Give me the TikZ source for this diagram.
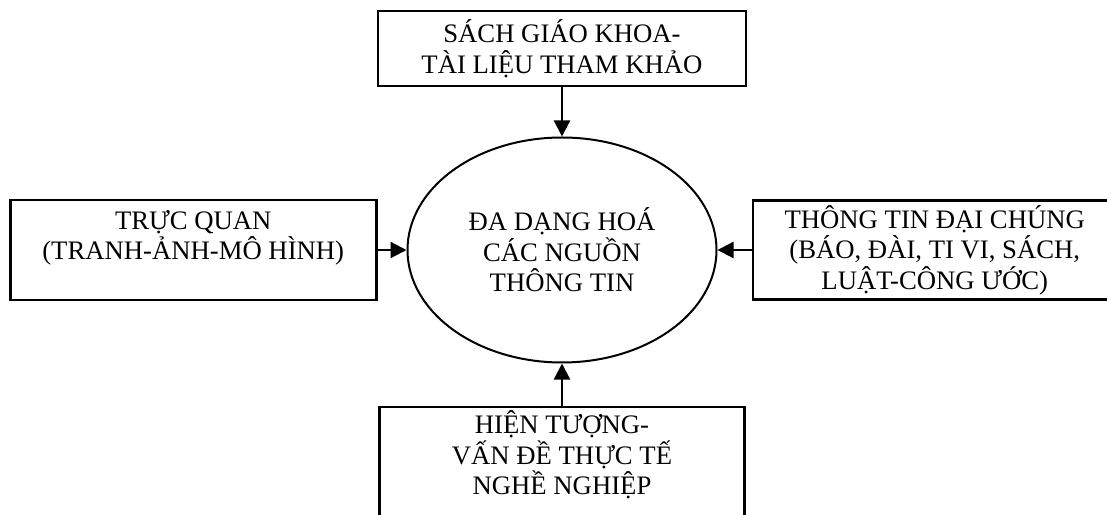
\documentclass[tikz,border=0pt]{standalone}
\usepackage{fontspec}
\setmainfont{Liberation Serif}
\usetikzlibrary{positioning,arrows.meta,shapes.geometric}
\begin{document}
\begin{tikzpicture}[x=1pt, y=1pt, node distance={30pt}, main/.style = {draw, rectangle, line width=2.5pt, inner sep=0pt, align=center, font=\fontsize{26.7}{30.5}\selectfont}, src/.style = {-{Triangle[length=16pt,width=16pt]}, line width=2.2pt}]
  \useasboundingbox (0,0) rectangle (1107,514);
  \clip (0,0) rectangle (1107,514);
  \node[draw, ellipse, line width=2pt, inner sep=0pt, minimum width=309pt, minimum height=225pt, align=center, font=\fontsize{26.7}{30.5}\selectfont] (centre) at (562,264) {ĐA DẠNG HOÁ\\CÁC NGUỒN\\THÔNG TIN};
  \node[main, minimum width=368pt, minimum height=75pt] (sgk) [above=49pt of centre] {SÁCH GIÁO KHOA-\\TÀI LIỆU THAM KHẢO};
  \node[main, minimum width=366pt, minimum height=100pt] (trucquan) [left=29pt of centre] {TRỰC QUAN\\(TRANH-ẢNH-MÔ HÌNH)\\\mbox{}};
  \node[main, minimum width=364pt, minimum height=99pt] (thongtin) [right=34pt of centre] {THÔNG TIN ĐẠI CHÚNG\\(BÁO, ĐÀI, TI VI, SÁCH,\\LUẬT-CÔNG ƯỚC)};
  \node[main, minimum width=365pt, minimum height=112pt, text depth=20pt] (hientuong) [below=42pt of centre] {HIỆN TƯỢNG-\\VẤN ĐỀ THỰC TẾ\\NGHỀ NGHIỆP};
  \draw[src] (sgk) -- (centre);
  \draw[src] (trucquan) -- (centre);
  \draw[src] (thongtin) -- (centre);
  \draw[src] (hientuong) -- (centre);
\end{tikzpicture}
\end{document}
